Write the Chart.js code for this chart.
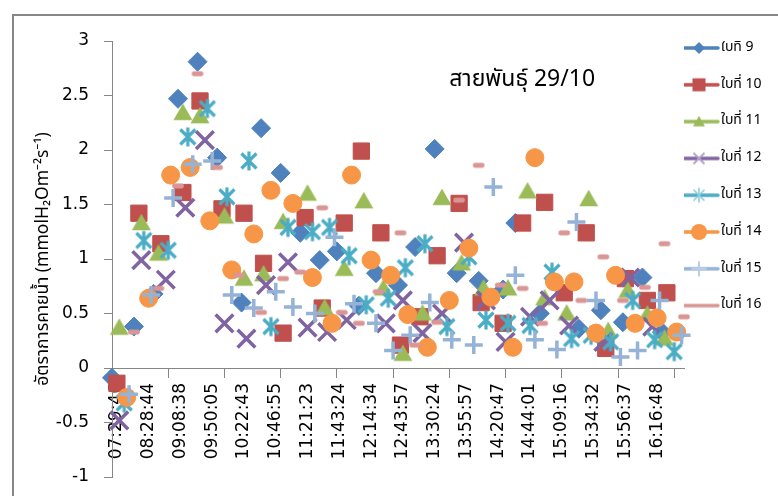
<!DOCTYPE html>
<html>
<head>
<meta charset="utf-8">
<script src="https://cdn.jsdelivr.net/npm/chart.js@4.4.1/dist/chart.umd.min.js"></script>
<style>
  html, body { margin: 0; padding: 0; background: #fff; width: 778px; height: 496px; overflow: hidden; }
  #frame { position: absolute; left: 12px; top: 14px; width: 900px; height: 600px; border: 2px solid #878787; box-sizing: border-box; }
  #chart { position: absolute; left: 0; top: 0; }
</style>
</head>
<body>
<div id="frame"></div>
<canvas id="chart" width="778" height="496"></canvas>
<script>
// Time stamps printed under the axis: one every 13th reading, starting at reading 2
const timeLabels = ['07:29:46', '08:28:44', '09:08:38', '09:50:05', '10:22:43', '10:46:55',
  '11:21:23', '11:43:24', '12:14:34', '12:43:57', '13:30:24', '13:55:57',
  '14:20:47', '14:44:01', '15:09:16', '15:34:32', '15:56:37', '16:16:48'];
const labelFirst = 2;
const labelStep = 13;
const markStep = 23;
const lastReading = 234;

const leafNames = ['ใบที่ 9', 'ใบที่ 10', 'ใบที่ 11', 'ใบที่ 12', 'ใบที่ 13', 'ใบที่ 14', 'ใบที่ 15', 'ใบที่ 16'];
const chartTitle = 'สายพันธุ์ 29/10';
const yTitle = 'อัตราการคายน้ำ (mmolH₂Om⁻²s⁻¹)';

// Reading number (position in the day's measurement sequence) and transpiration rate per leaf
const leaf9X  = [0, 9, 17, 27, 35, 43, 53, 61, 69, 77, 85, 92, 101, 108, 117, 124, 132, 141, 150, 160, 165, 175, 191, 200, 209, 217, 225];
const leaf9Y  = [-0.09, 0.38, 0.68, 2.47, 2.81, 1.93, 0.60, 2.20, 1.79, 1.24, 0.99, 1.07, 0.57, 0.87, 0.76, 1.11, 2.01, 0.87, 0.80, 0.72, 1.33, 0.50, 0.36, 0.53, 0.42, 0.83, 0.33];

const leaf10X = [2, 11, 20, 29, 36, 45, 54, 62, 70, 79, 86, 95, 102, 110, 118, 126, 133, 142, 151, 160, 168, 177, 185, 194, 202, 210, 219, 227];
const leaf10Y = [-0.14, 1.42, 1.14, 1.61, 2.45, 1.46, 1.42, 0.96, 0.32, 1.38, 0.55, 1.33, 1.99, 1.24, 0.21, 0.47, 1.03, 1.51, 0.60, 0.41, 1.33, 1.52, 0.69, 1.24, 0.18, 0.82, 0.62, 0.69];

const leaf11X = [3, 12, 19, 29, 36, 46, 54, 62, 70, 80, 87, 95, 103, 111, 119, 127, 135, 143, 152, 162, 170, 177, 186, 195, 203, 211, 219, 226];
const leaf11Y = [0.38, 1.34, 1.06, 2.35, 2.32, 1.40, 0.83, 0.87, 1.35, 1.61, 0.56, 0.92, 1.54, 0.74, 0.14, 0.51, 1.57, 0.97, 0.74, 0.74, 1.63, 0.65, 0.51, 1.56, 0.35, 0.72, 0.50, 0.28];

const leaf12X = [3, 12, 22, 30, 38, 46, 55, 63, 72, 80, 88, 96, 112, 119, 127, 135, 144, 153, 161, 171, 179, 187, 201, 212, 221];
const leaf12Y = [-0.48, 0.99, 0.81, 1.47, 2.09, 0.41, 0.27, 0.76, 0.97, 0.37, 0.33, 0.44, 0.41, 0.62, 0.32, 0.50, 1.15, 0.62, 0.24, 0.47, 0.62, 0.39, 0.24, 0.83, 0.38];

const leaf13X = [5, 13, 23, 31, 39, 47, 56, 65, 72, 82, 89, 97, 104, 113, 120, 128, 137, 146, 153, 162, 171, 180, 188, 196, 204, 213, 222, 230];
const leaf13Y = [-0.32, 1.17, 1.08, 2.12, 2.38, 1.57, 1.90, 0.38, 1.29, 1.25, 1.29, 1.03, 0.58, 0.64, 0.92, 1.14, 0.38, 1.02, 0.44, 0.41, 0.39, 0.88, 0.27, 0.30, 0.24, 0.62, 0.26, 0.15];

const leaf14X = [6, 15, 24, 32, 40, 49, 58, 65, 74, 82, 90, 98, 106, 114, 121, 129, 138, 146, 155, 164, 173, 181, 189, 198, 206, 214, 223, 231];
const leaf14Y = [-0.27, 0.64, 1.77, 1.84, 1.35, 0.90, 1.23, 1.63, 1.51, 0.83, 0.41, 1.77, 0.99, 0.85, 0.49, 0.19, 0.62, 1.10, 0.65, 0.19, 1.93, 0.79, 0.79, 0.32, 0.85, 0.41, 0.46, 0.33];

const leaf15X = [7, 16, 25, 33, 41, 49, 58, 67, 74, 83, 91, 99, 108, 115, 122, 130, 139, 148, 156, 165, 173, 182, 190, 198, 208, 215, 224, 233];
const leaf15Y = [-0.24, 0.67, 1.56, 1.87, 1.90, 0.67, 0.55, 0.70, 0.56, 0.50, 1.20, 0.59, 0.41, 0.16, 0.30, 0.60, 0.26, 0.21, 1.66, 0.85, 0.26, 0.17, 1.34, 0.62, 0.10, 0.16, 0.62, 0.30];

const leaf16X = [9, 19, 27, 35, 43, 52, 61, 70, 77, 86, 94, 101, 109, 118, 124, 133, 142, 150, 159, 168, 176, 185, 192, 201, 209, 218, 226, 234];
const leaf16Y = [0.33, 0.73, 1.67, 2.70, 1.84, 0.85, 0.51, 0.82, 0.88, 1.47, 0.51, 0.41, 0.70, 1.24, 0.21, 0.42, 1.54, 1.86, 0.76, 0.73, 0.41, 1.24, 0.62, 1.02, 0.62, 0.74, 1.14, 0.47];

const leafX = [leaf9X, leaf10X, leaf11X, leaf12X, leaf13X, leaf14X, leaf15X, leaf16X];
const leafY = [leaf9Y, leaf10Y, leaf11Y, leaf12Y, leaf13Y, leaf14Y, leaf15Y, leaf16Y];

const AXIS_GRAY = '#868686';
const FONT_NUM = '"DejaVu Sans", "Noto Sans", sans-serif';
const FONT_TEXT = '"Noto Sans Thai", "Noto Sans Thai UI", "Noto Sans", "DejaVu Sans", sans-serif';

// ---- marker glyphs -------------------------------------------------------
function makeCanvas(w, h, paint) {
  const c = document.createElement('canvas');
  c.width = w; c.height = h;
  paint(c.getContext('2d'), w / 2, h / 2);
  return c;
}
function pathDiamond(g, cx, cy, r) {
  g.beginPath(); g.moveTo(cx - r, cy); g.lineTo(cx, cy - r); g.lineTo(cx + r, cy); g.lineTo(cx, cy + r); g.closePath();
}
function pathTriangle(g, cx, cy, w, h) {
  g.beginPath(); g.moveTo(cx, cy - h / 2); g.lineTo(cx + w / 2, cy + h / 2); g.lineTo(cx - w / 2, cy + h / 2); g.closePath();
}
function strokeAsterisk(g, cx, cy, dx, dy, lw, color) {
  g.strokeStyle = color; g.lineWidth = lw; g.lineCap = 'butt';
  g.beginPath();
  g.moveTo(cx - dx, cy - dx); g.lineTo(cx + dx, cy + dx);
  g.moveTo(cx - dx, cy + dx); g.lineTo(cx + dx, cy - dx);
  g.moveTo(cx, cy - dy); g.lineTo(cx, cy + dy);
  g.stroke();
}
function strokeCross(g, cx, cy, r, lw, color, rotated) {
  g.strokeStyle = color; g.lineWidth = lw; g.lineCap = 'butt';
  g.beginPath();
  if (rotated) {
    g.moveTo(cx - r, cy - r); g.lineTo(cx + r, cy + r);
    g.moveTo(cx - r, cy + r); g.lineTo(cx + r, cy - r);
  } else {
    g.moveTo(cx - r, cy); g.lineTo(cx + r, cy);
    g.moveTo(cx, cy - r); g.lineTo(cx, cy + r);
  }
  g.stroke();
}
function fillDash(g, cx, cy, w, h, color) {
  g.fillStyle = color;
  g.beginPath();
  if (g.roundRect) g.roundRect(cx - w / 2, cy - h / 2, w, h, h / 2.5); else g.rect(cx - w / 2, cy - h / 2, w, h);
  g.fill();
}

const colors = ['#4F81BD', '#C0504D', '#9BBB59', '#8064A2', '#4BACC6', '#F79646', '#95B3D7', '#D99694'];

const triangleMark = makeCanvas(22, 20, (g, cx, cy) => {
  pathTriangle(g, cx, cy, 19, 16.5); g.fillStyle = colors[2]; g.fill();
});
const asteriskMark = makeCanvas(24, 24, (g, cx, cy) => strokeAsterisk(g, cx, cy, 7.5, 9.5, 3.2, colors[4]));
const dashMark = makeCanvas(14, 8, (g, cx, cy) => fillDash(g, cx, cy, 11.5, 5, colors[7]));

const pointLook = [
  { style: 'rectRot', radius: 9.5, border: 1 },
  { style: 'rect', radius: 11.5, border: 1 },
  { style: triangleMark, radius: 10, border: 0 },
  { style: 'crossRot', radius: 12.5, border: 3.5 },
  { style: asteriskMark, radius: 10, border: 0 },
  { style: 'circle', radius: 9, border: 1 },
  { style: 'cross', radius: 9, border: 3.5 },
  { style: dashMark, radius: 6, border: 0 }
];

// legend keys: a line with a small marker in the middle
function legendKey(i) {
  return makeCanvas(44, 20, (g, cx, cy) => {
    g.strokeStyle = colors[i]; g.lineWidth = 3.5; g.lineCap = 'round';
    g.beginPath(); g.moveTo(3, cy); g.lineTo(41, cy); g.stroke();
    g.fillStyle = colors[i];
    switch (i) {
      case 0: pathDiamond(g, cx, cy, 6); g.fill(); break;
      case 1: g.fillRect(cx - 6.5, cy - 6.5, 13, 13); break;
      case 2: pathTriangle(g, cx, cy - 0.5, 12, 10.5); g.fill(); break;
      case 3: strokeCross(g, cx, cy, 5.5, 1.8, '#B3A2C7', true); break;
      case 4: strokeAsterisk(g, cx, cy, 5.5, 7.5, 1.6, '#92CDDC'); break;
      case 5: g.beginPath(); g.arc(cx, cy, 8, 0, Math.PI * 2); g.fill(); break;
      case 6: strokeCross(g, cx, cy, 7.5, 2, '#B9CDE5', false); break;
      default: break;
    }
  });
}
const legendKeys = leafNames.map((_, i) => legendKey(i));

// tick positions on the reading axis: labelled readings plus plain tick marks
const labelAt = timeLabels.map((_, i) => labelFirst + i * labelStep);
const markAt = [];
for (let v = 0; v <= lastReading; v += markStep) markAt.push(v);
const axisTicks = Array.from(new Set(labelAt.concat(markAt))).sort((a, b) => a - b);

// caption placed inside the plot area
const plotCaption = {
  id: 'plotCaption',
  afterDraw(chart, args, opts) {
    const { ctx, chartArea: a } = chart;
    ctx.save();
    ctx.font = opts.font;
    ctx.fillStyle = opts.color;
    ctx.textAlign = 'center';
    ctx.textBaseline = 'middle';
    ctx.fillText(opts.text, a.left + opts.relX * (a.right - a.left), a.top + opts.dy);
    ctx.restore();
  }
};

new Chart(document.getElementById('chart'), {
  type: 'scatter',
  data: {
    datasets: leafNames.map((name, i) => ({
      label: name,
      data: leafX[i].map((x, j) => ({ x: x, y: leafY[i][j] })),
      pointStyle: pointLook[i].style,
      pointRadius: pointLook[i].radius,
      pointHoverRadius: pointLook[i].radius,
      pointBorderWidth: pointLook[i].border,
      backgroundColor: colors[i],
      borderColor: colors[i],
      showLine: false,
      clip: false,
      order: leafNames.length - i
    }))
  },
  options: {
    responsive: false,
    animation: false,
    events: [],
    layout: { padding: { left: 0, top: 41, right: 14, bottom: 19 } },
    scales: {
      x: {
        type: 'linear',
        axis: 'x',
        position: { y: 0 },
        min: 0,
        max: lastReading,
        afterBuildTicks: (scale) => { scale.ticks = axisTicks.map(v => ({ value: v })); },
        afterFit: (scale) => { scale.paddingLeft = 0; scale.paddingRight = 0; },
        ticks: {
          autoSkip: false,
          minRotation: 90,
          maxRotation: 90,
          padding: 6,
          color: '#000',
          font: { family: FONT_NUM, size: 17 },
          callback: (value) => {
            const k = (value - labelFirst) / labelStep;
            return Number.isInteger(k) && k >= 0 && k < timeLabels.length ? timeLabels[k] : '';
          }
        },
        grid: {
          display: true,
          drawOnChartArea: false,
          drawTicks: true,
          tickLength: 9,
          tickWidth: 1,
          tickColor: (c) => (c.tick && c.tick.value % markStep === 0) ? AXIS_GRAY : 'rgba(0,0,0,0)'
        },
        border: { display: true, color: AXIS_GRAY, width: 1 }
      },
      y: {
        type: 'linear',
        position: 'left',
        min: -1,
        max: 3,
        afterFit: (scale) => { scale.width = 112; scale.paddingTop = 0; scale.paddingBottom = 0; },
        ticks: {
          stepSize: 0.5,
          padding: 15,
          color: '#000',
          font: { family: FONT_NUM, size: 17 },
          callback: (value) => String(Number(value.toFixed(2)))
        },
        grid: {
          display: true,
          drawOnChartArea: false,
          drawTicks: true,
          tickLength: 8,
          tickColor: AXIS_GRAY
        },
        border: { display: true, color: AXIS_GRAY, width: 1 },
        title: {
          display: true,
          text: yTitle,
          color: '#000',
          font: { family: FONT_TEXT, size: 17.5 },
          padding: { top: 34, bottom: 0 }
        }
      }
    },
    plugins: {
      tooltip: { enabled: false },
      title: { display: false },
      legend: {
        display: true,
        position: 'right',
        align: 'start',
        maxWidth: 80,
        labels: {
          usePointStyle: true,
          pointStyleWidth: 30,
          padding: 0,
          color: '#000',
          font: { family: FONT_TEXT, size: 14, lineHeight: 36.8 / 14 },
          generateLabels: (chart) => chart.data.datasets.map((ds, i) => ({
            text: [ds.label],
            pointStyle: legendKeys[i],
            fillStyle: colors[i],
            strokeStyle: colors[i],
            lineWidth: 0,
            fontColor: '#000',
            hidden: false,
            datasetIndex: i
          }))
        }
      },
      plotCaption: {
        text: chartTitle,
        font: '23px ' + FONT_TEXT,
        color: '#000',
        relX: 0.717,
        dy: 40
      }
    }
  },
  plugins: [plotCaption]
});
</script>
</body>
</html>
